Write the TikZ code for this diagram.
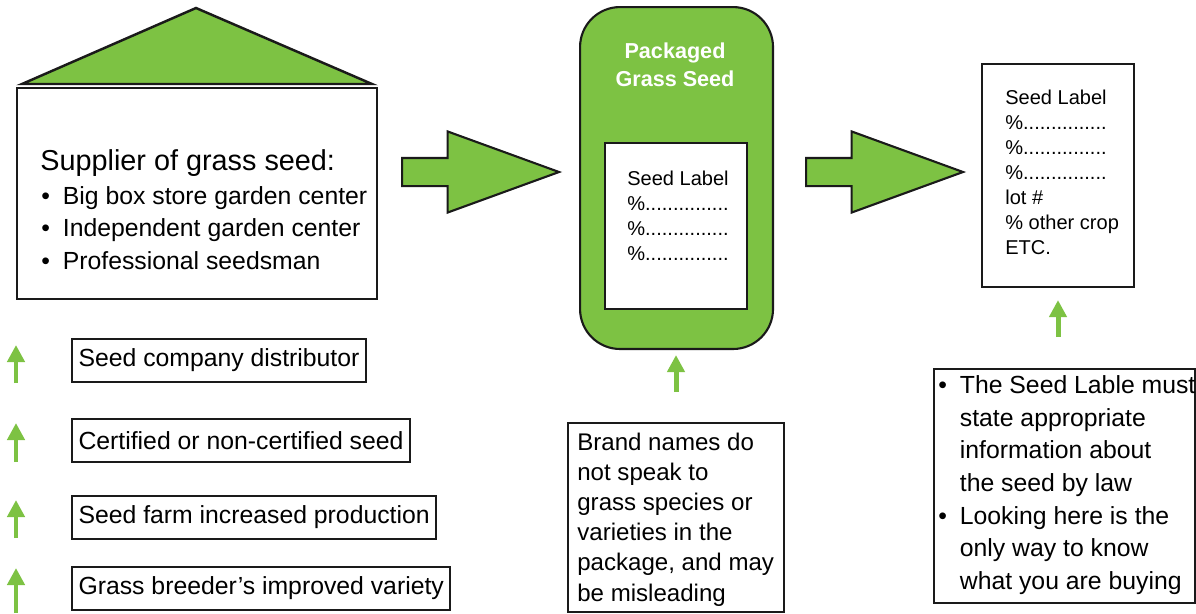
\documentclass[tikz,border=0pt]{standalone}
\usepackage{fontspec}
\setmainfont{Liberation Sans}
\usetikzlibrary{arrows.meta,shapes.arrows}
\definecolor{grass}{HTML}{7DC243}
\definecolor{ink}{HTML}{1A1A1A}
\newcommand{\bul}{\makebox[0.87em][l]{\textbullet}}
\newcommand{\nobul}{\makebox[0.87em][l]{}}
\newcommand{\dotrow}{\%...............}

\begin{document}
\begin{tikzpicture}[x=0.02cm,y=-0.02cm]
		\tikzset{
			box/.style={draw=ink,line width=1.2pt,inner sep=0pt,anchor=north west},
			stepbox/.style={draw=ink,line width=1.2pt,inner xsep=0.13cm,inner ysep=0pt,minimum height=0.86cm,anchor=west,font=\fontsize{14.1}{18.5}\selectfont},
			bodytext/.style={font=\fontsize{14.1}{18.5}\selectfont,align=left,inner sep=0pt,anchor=base west},
			labeltext/.style={font=\fontsize{11.4}{14.2}\selectfont,align=left,inner sep=0pt,anchor=base west},
			bigarrow/.style={single arrow,draw=ink,fill=grass,line width=1.2pt,inner xsep=0pt,inner ysep=0.26cm,text height=0pt,text depth=0pt,single arrow head extend=0.53cm,single arrow tip angle=40,minimum height=3.14cm,anchor=tail},
			uparrow/.style={draw=grass,line width=0.1cm,-{Triangle[width=0.34cm,length=0.34cm]}}
		}
		\useasboundingbox (0,0) rectangle (1196,613);

		% supplier (multi-line texts are placed by their last baseline)
		\node (sup) at (16,87) [box,line width=1.4pt,minimum width=7.2cm,minimum height=4.22cm] {};
		\filldraw[fill=grass,draw=ink,line width=1.4pt] (22,84) -- (196,8) -- (372,84) -- cycle;
		\node (suptitle) at (40,170) [font=\fontsize{16.4}{20}\selectfont,inner sep=0pt,anchor=base west] {Supplier of grass seed:};
		\node (suplist) at (41,269) [bodytext] {\bul Big box store garden center\\\bul Independent garden center\\\bul Professional seedsman};

		% chain below the supplier
		\foreach \y/\txt [count=\i] in {360.5/Seed company distributor,440.5/Certified or non-certified seed,517.5/Seed farm increased production,588.5/Grass breeder’s improved variety}
			\node (step\i) at (71,\y) [stepbox] {\txt};
		\foreach \a/\b [count=\i] in {383/345,462/423,538/500,613/568} {
			\coordinate (tail\i) at (16,\a);
			\coordinate (tip\i) at (16,\b);
			\draw[uparrow] (tail\i) -- (tip\i);
		}

		\node (arr1) at (401,172) [bigarrow] {};

		% package
		\node (pkg) at (579,6) [box,fill=grass,rounded corners=0.8cm,minimum width=3.86cm,minimum height=6.84cm] {};
		\node (pkgtitle) at (675,86) [font=\bfseries\fontsize{12.3}{15.4}\selectfont,text=white,align=center,inner sep=0pt,anchor=base] {Packaged\\Grass Seed};
		\node (pkglbl) at (604,142) [box,fill=white,minimum width=2.84cm,minimum height=3.32cm] {};
		\node (pkgtxt) at (627,260) [labeltext] {Seed Label\\\dotrow\\\dotrow\\\dotrow};

		\node (brand) at (567,422) [box,minimum width=4.32cm,minimum height=3.78cm] {};
		\node (brandtxt) at (577,601) [font=\fontsize{13.7}{17.1}\selectfont,align=left,inner sep=0pt,anchor=base west] {Brand names do\\not speak to\\grass species or\\varieties in the\\package, and may\\be misleading};
		\coordinate (pkgfoot) at (676,392);
		\draw[uparrow,shorten >=0.1cm] (pkgfoot) -- (pkgfoot |- pkg.south);

		\node (arr2) at (805,172) [bigarrow] {};

		% seed label
		\node (lbl) at (981,63) [box,minimum width=3.04cm,minimum height=4.46cm] {};
		\node (lbltxt) at (1005,254) [labeltext] {Seed Label\\\dotrow\\\dotrow\\\dotrow\\lot \#\\\% other crop\\ETC.};

		\node (law) at (933,368) [box,minimum width=5.22cm,minimum height=4.68cm] {};
		\node (lawtxt) at (938,589) [bodytext] {\bul The Seed Lable must\\\nobul state appropriate\\\nobul information about\\\nobul the seed by law\\\bul Looking here is the\\\nobul only way to know\\\nobul what you are buying};
		\coordinate (lblfoot) at (1058,337);
		\draw[uparrow,shorten >=0.24cm] (lblfoot) -- (lblfoot |- lbl.south);
	\end{tikzpicture}
\end{document}
